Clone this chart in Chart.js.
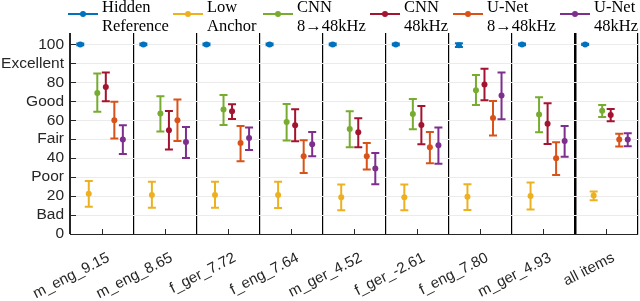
<!DOCTYPE html>
<html><head><meta charset="utf-8">
<script src="https://cdn.jsdelivr.net/npm/chart.js@4"></script>
<style>html,body{margin:0;padding:0;background:#fff}#wrap{width:640px;height:301px}</style>
</head><body><div id="wrap"><canvas id="c" width="640" height="301"></canvas></div>
<script>
const categories = ['m_eng_9.15','m_eng_8.65','f_ger_7.72','f_eng_7.64','m_ger_4.52','f_ger_-2.61','f_eng_7.80','m_ger_4.93','all items'];
const seriesNames = [['Hidden','Reference'],['Low','Anchor'],['CNN','8→48kHz'],['CNN','48kHz'],['U-Net','8→48kHz'],['U-Net','48kHz']];
const seriesColors = ['#0072BD','#EDB120','#77AC30','#A2142F','#D95319','#7E2F8E'];

const hiddenRefMean = [100,100,100,100,100,100,99.6,100,100];
const hiddenRefLo   = [99.6,99.6,99.6,99.6,99.6,99.6,98.6,99.6,99.7];
const hiddenRefHi   = [100.4,100.4,100.4,100.4,100.4,100.4,100.6,100.4,100.3];

const lowAnchorMean = [21.2,20.6,20.6,20.6,19.4,19.4,19.6,20.1,20.3];
const lowAnchorLo   = [14.4,13.8,13.8,13.7,12.5,12.5,12.7,12.9,17.8];
const lowAnchorHi   = [28.0,27.5,27.5,27.5,26.1,26.1,26.2,27.1,22.4];

const cnn8Mean = [74.3,63.5,65.6,59.1,55.4,63.3,75.8,63.0,65.0];
const cnn8Lo   = [64.5,54.0,57.5,49.3,45.7,55.2,68.0,53.6,61.7];
const cnn8Hi   = [84.6,72.6,73.3,68.5,64.7,71.2,83.8,72.1,68.0];

const cnn48Mean = [77.5,54.7,64.7,57.3,53.6,57.5,78.9,58.2,62.7];
const cnn48Lo   = [70.0,44.5,60.6,48.9,45.7,47.3,70.5,47.5,59.4];
const cnn48Hi   = [85.2,64.9,68.4,65.8,61.0,67.5,87.2,68.9,65.9];

const unet8Mean = [60.0,60.0,48.0,41.0,41.0,45.7,61.2,39.9,49.8];
const unet8Lo   = [50.3,49.1,38.4,32.2,34.0,37.3,51.9,31.1,46.1];
const unet8Hi   = [69.8,70.9,57.0,49.4,48.0,53.8,70.1,48.4,52.9];

const unet48Mean = [49.8,48.5,50.6,47.3,34.5,46.8,73.0,49.1,49.9];
const unet48Lo   = [42.2,40.1,44.3,41.0,26.2,37.1,60.5,40.8,46.3];
const unet48Hi   = [57.3,56.4,56.1,53.8,42.7,56.1,85.2,57.0,53.1];

const yTickValues = [0,10,20,30,40,50,60,70,80,90,100];
const yTickText   = ['0','Bad','20','Poor','40','Fair','60','Good','80','Excellent','100'];

const means = [hiddenRefMean,lowAnchorMean,cnn8Mean,cnn48Mean,unet8Mean,unet48Mean];
const los   = [hiddenRefLo,lowAnchorLo,cnn8Lo,cnn48Lo,unet8Lo,unet48Lo];
const his   = [hiddenRefHi,lowAnchorHi,cnn8Hi,cnn48Hi,unet8Hi,unet48Hi];

const datasets = seriesNames.map((n,i)=>({
  label: n.join(' '),
  data: los[i].map((l,j)=>[l, his[i][j]]),
  means: means[i],
  backgroundColor: 'rgba(0,0,0,0)',
  borderWidth: 0,
  color: seriesColors[i]
}));

const legendX = [68,173,263,370,453,560];

const errorBarPlugin = {
  id: 'errorBars',
  afterDatasetsDraw(chart){
    const ctx = chart.ctx, ys = chart.scales.y;
    ctx.save();
    chart.data.datasets.forEach((ds,i)=>{
      const meta = chart.getDatasetMeta(i);
      ctx.strokeStyle = ds.color; ctx.fillStyle = ds.color;
      ctx.lineWidth = 2;
      meta.data.forEach((el,j)=>{
        const x = el.x;
        const yt = ys.getPixelForValue(ds.data[j][1]);
        const yb = ys.getPixelForValue(ds.data[j][0]);
        const ym = ys.getPixelForValue(ds.means[j]);
        const cw = 4;
        ctx.beginPath();
        ctx.moveTo(x, yt); ctx.lineTo(x, yb);
        ctx.moveTo(x-cw, yt); ctx.lineTo(x+cw, yt);
        ctx.moveTo(x-cw, yb); ctx.lineTo(x+cw, yb);
        ctx.stroke();
        ctx.beginPath(); ctx.arc(x, ym, 3, 0, Math.PI*2); ctx.fill();
      });
    });
    ctx.restore();
  },
  afterDraw(chart){
    const ctx = chart.ctx, a = chart.chartArea, xs = chart.scales.x, ys = chart.scales.y;
    ctx.save();
    ctx.strokeStyle = '#262626'; ctx.lineWidth = 1;
    ctx.beginPath();
    yTickValues.forEach(v=>{ const p = Math.round(ys.getPixelForValue(v))+0.5; ctx.moveTo(a.left, p); ctx.lineTo(a.left+6, p); });
    categories.forEach((c,j)=>{ const p = Math.round(xs.getPixelForValue(j))+0.5; ctx.moveTo(p, a.bottom); ctx.lineTo(p, a.bottom-5); });
    ctx.stroke();
    // legend
    ctx.font = '16.5px "Liberation Serif", serif';
    ctx.textBaseline = 'alphabetic'; ctx.textAlign = 'left';
    seriesNames.forEach((n,i)=>{
      const x0 = legendX[i];
      ctx.strokeStyle = seriesColors[i]; ctx.fillStyle = seriesColors[i]; ctx.lineWidth = 2;
      ctx.beginPath(); ctx.moveTo(x0, 14); ctx.lineTo(x0+30, 14); ctx.stroke();
      ctx.beginPath(); ctx.arc(x0+15, 14, 3, 0, Math.PI*2); ctx.fill();
      ctx.fillStyle = '#000';
      ctx.fillText(n[0], x0+34, 12);
      ctx.fillText(n[1], x0+34, 31);
    });
    ctx.restore();
  }
};

new Chart(document.getElementById('c'), {
  type: 'bar',
  data: { labels: categories, datasets },
  options: {
    responsive: false, animation: false,
    layout: { padding: { top: 33, right: 2, left: 0, bottom: 0 } },
    datasets: { bar: { categoryPercentage: 0.81, barPercentage: 1 } },
    plugins: { legend: { display: false }, tooltip: { enabled: false } },
    scales: {
      x: {
        offset: true,
        grid: { offset: true, drawTicks: false,
          color: c => c.index === 0 ? '#262626' : '#000',
          lineWidth: c => (c.index === 8 || c.index === 9) ? 2.5 : 1.2 },
        border: { color: '#262626', width: 1 },
        ticks: { autoSkip: false, minRotation: 27, maxRotation: 27, padding: 15, labelOffset: 7, color: '#262626',
          font: { family: '"Liberation Sans", Arial, sans-serif', size: 15 } },
        afterFit: s => { s.height = 67; }
      },
      y: {
        min: 0, max: 106,
        afterBuildTicks: s => { s.ticks = yTickValues.map(v=>({value:v})); },
        grid: { color: '#ebebeb', lineWidth: 1, drawTicks: false },
        border: { color: '#262626', width: 1 },
        ticks: { autoSkip: false, padding: 6, color: '#262626',
          font: { family: '"Liberation Sans", Arial, sans-serif', size: 15.5 },
          callback: v => { const k = yTickValues.indexOf(v); return k >= 0 ? yTickText[k] : ''; } },
        afterFit: s => { s.width = 70; }
      }
    }
  },
  plugins: [errorBarPlugin]
});
</script></body></html>
